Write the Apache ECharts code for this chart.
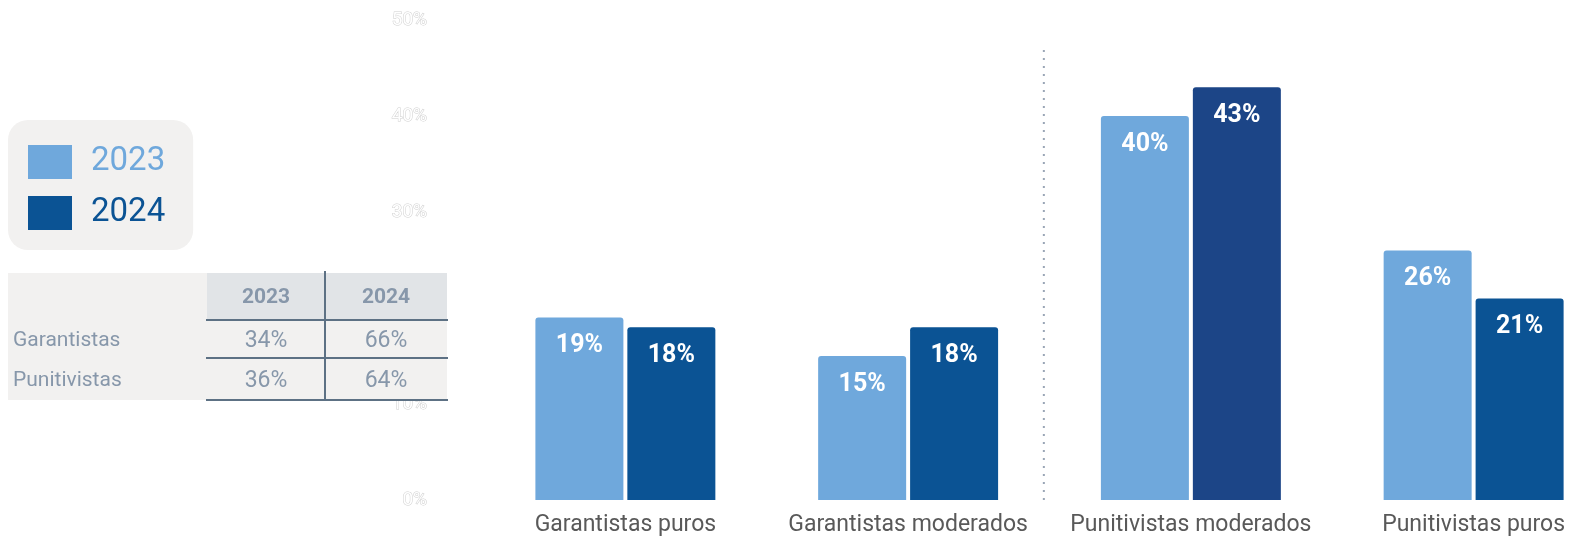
<!DOCTYPE html>
<html>
<head>
<meta charset="utf-8">
<style>
html,body{margin:0;padding:0;background:#fff;}
#chart{width:1583px;height:543px;}
</style>
<script src="https://cdn.jsdelivr.net/npm/echarts@6/dist/echarts.min.js"></script>
</head>
<body>
<div id="chart"></div>
<script>
// ---- data ----
const categories = ['Garantistas puros', 'Garantistas moderados', 'Punitivistas moderados', 'Punitivistas puros'];
const seriesNames = ['2023', '2024'];
const values2023 = [19, 15, 40, 26];
const values2024 = [18, 18, 43, 21];
const yTicks = [0, 10, 20, 30, 40, 50];
const dividerAt = [1.98, 47]; // between category 2 and 3, up to 47%
const tableHeader = ['2023', '2024'];
const tableRowNames = ['Garantistas', 'Punitivistas'];
const tableValues = [[34, 66], [36, 64]];

// ---- styles ----
const c2023 = '#6fa8dc';
const c2024 = '#0b5394';
const c2024dark = '#1c4587';
const font = 'Roboto, "Noto Sans", sans-serif';
const tableText = '#8797aa';
const tableLine = '#5d7184';

const chart = echarts.init(document.getElementById('chart'), null, {renderer: 'canvas'});

function barData(vals, color, special) {
  return vals.map((v, i) => ({
    value: v,
    itemStyle: {color: (special && i === 2) ? c2024dark : color}
  }));
}

const labelCfg = {
  show: true, position: 'insideTop', distance: 16,
  color: '#fff', fontFamily: font, fontWeight: 'bold', fontSize: 25,
  formatter: p => p.value + '%'
};

// table graphic
const tg = [];
const tx = 8, ty = 273, tw = 439, th = 127;
const c1 = 207, cMid = 325, c2 = 447;
const rowY = [273, 320, 358, 400];
tg.push({type: 'rect', shape: {x: tx, y: ty, width: tw, height: th}, style: {fill: '#f2f1f0'}, z: 100});
tg.push({type: 'rect', shape: {x: c1, y: rowY[0], width: c2 - c1, height: rowY[1] - rowY[0]}, style: {fill: '#e1e4e7'}, z: 101});
[rowY[1], rowY[2], rowY[3]].forEach(y => {
  tg.push({type: 'line', shape: {x1: c1 - 1, y1: y, x2: c2 + 1, y2: y}, style: {stroke: tableLine, lineWidth: 2}, z: 102});
});
tg.push({type: 'line', shape: {x1: cMid, y1: 271, x2: cMid, y2: 401}, style: {stroke: tableLine, lineWidth: 2}, z: 102});
const colCenters = [(c1 + cMid) / 2, (cMid + c2) / 2];
tableHeader.forEach((h, j) => {
  tg.push({type: 'text', x: colCenters[j], y: (rowY[0] + rowY[1]) / 2 + 1, z: 103,
    style: {text: h, fill: tableText, font: 'bold 21px ' + font, align: 'center', verticalAlign: 'middle'}});
});
tableRowNames.forEach((r, i) => {
  const cy = (rowY[i + 1] + rowY[i + 2]) / 2 + 2;
  tg.push({type: 'text', x: 13, y: cy, z: 103,
    style: {text: r, fill: tableText, font: '21px ' + font, align: 'left', verticalAlign: 'middle'}});
  tableValues[i].forEach((v, j) => {
    tg.push({type: 'text', x: colCenters[j], y: cy, z: 103,
      style: {text: v + '%', fill: tableText, font: '23px ' + font, align: 'center', verticalAlign: 'middle'}});
  });
});

const option = {
  animation: false,
  textStyle: {fontFamily: font},
  grid: {left: 484, top: 20, width: 1131, height: 480, containLabel: false, outerBoundsMode: 'none'},
  legend: {
    orient: 'vertical', left: 8, top: 120,
    padding: [25, 28, 20, 20],
    backgroundColor: '#f2f1f0', borderRadius: 20,
    itemWidth: 44, itemHeight: 34, itemGap: 17,
    icon: 'rect', selectedMode: false,
    data: [
      {name: seriesNames[0], textStyle: {color: c2023}},
      {name: seriesNames[1], textStyle: {color: c2024}}
    ],
    textStyle: {fontSize: 33, fontFamily: font, padding: [0, 0, 0, 14]}
  },
  xAxis: [{
    type: 'category', data: categories,
    axisLine: {show: false}, axisTick: {show: false},
    axisLabel: {color: '#595959', fontSize: 23, margin: 14, fontFamily: font, interval: 0}
  }, {
    type: 'value', min: 0, max: categories.length, show: false
  }],
  yAxis: {
    type: 'value', min: yTicks[0], max: yTicks[yTicks.length - 1], interval: 10,
    axisLine: {show: false}, axisTick: {show: false}, splitLine: {show: false},
    axisLabel: {
      formatter: v => v + '%', color: '#ffffff', fontSize: 19, margin: 57,
      textBorderColor: '#cfcfcf', textBorderWidth: 1, fontFamily: font
    }
  },
  series: [
    {
      name: seriesNames[0], type: 'bar', barWidth: 88, barGap: '4.5%',
      data: barData(values2023, c2023, false),
      itemStyle: {color: c2023, borderRadius: [3, 3, 0, 0]},
      label: labelCfg
    },
    {
      name: seriesNames[1], type: 'bar', barWidth: 88,
      data: barData(values2024, c2024, true),
      itemStyle: {color: c2024, borderRadius: [3, 3, 0, 0]},
      label: labelCfg
    },
    {
      name: 'divider', type: 'line', xAxisIndex: 1,
      data: [[dividerAt[0], 0], [dividerAt[0], dividerAt[1]]],
      symbol: 'none', silent: true,
      lineStyle: {color: '#9aa6b6', width: 2, type: [2, 6]}
    }
  ],
  graphic: tg
};
chart.setOption(option);
</script>
</body>
</html>
